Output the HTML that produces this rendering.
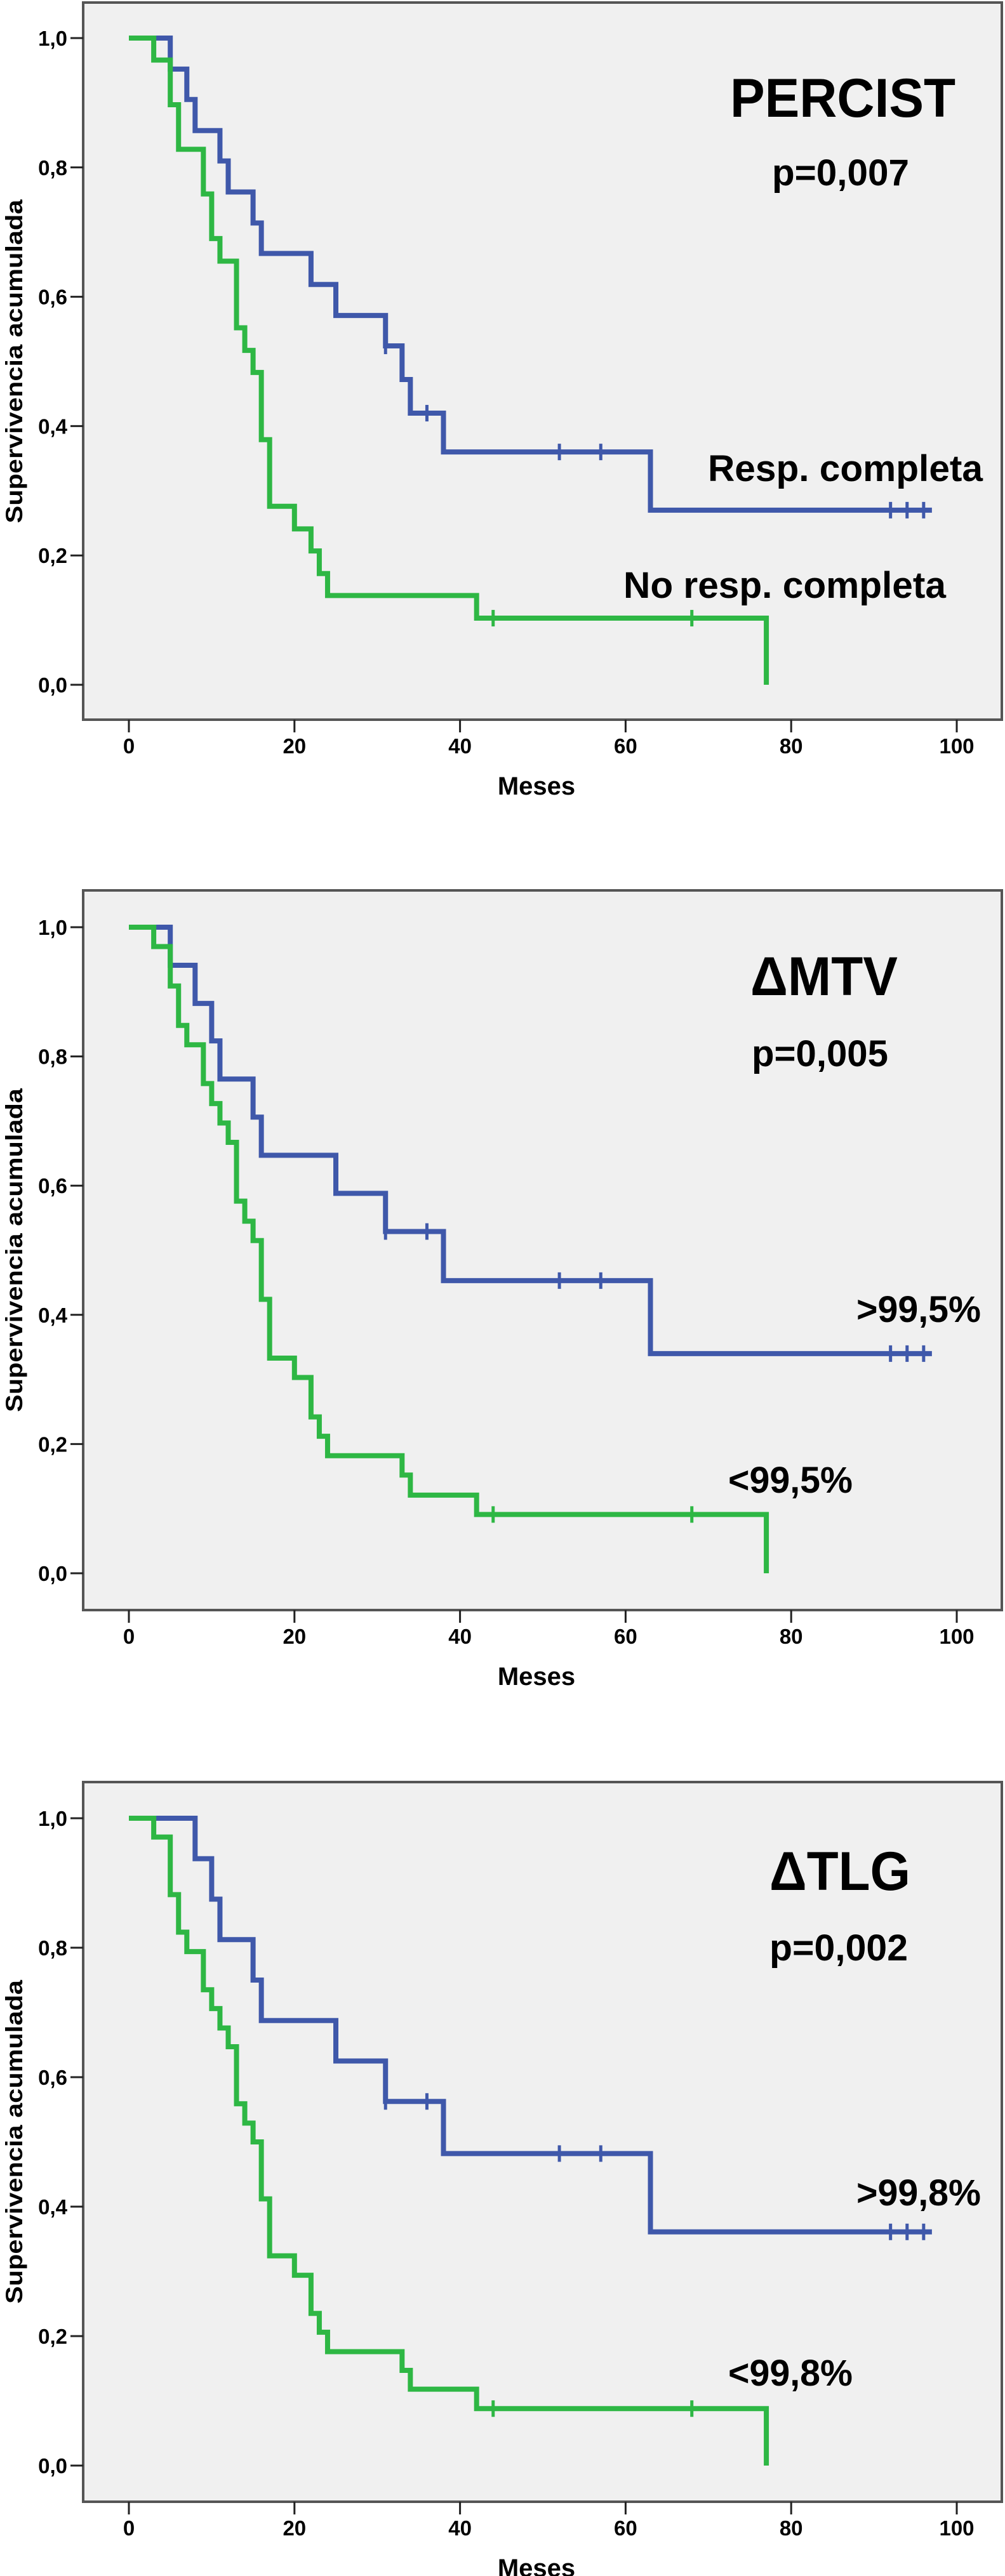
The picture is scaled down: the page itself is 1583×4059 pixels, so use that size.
<!DOCTYPE html>
<html><head><meta charset="utf-8"><style>
html,body{margin:0;padding:0;background:#fff;}
svg{display:block;}
text{font-family:"Liberation Sans",Arial,sans-serif;font-weight:bold;fill:#000;}
.tick{font-family:"Liberation Sans Narrow","Liberation Sans",sans-serif;font-size:33px;}
</style></head><body>
<svg id="chart" width="1583" height="4059" viewBox="0 0 1583 4059" xmlns="http://www.w3.org/2000/svg"></svg>
<script>
// ---- data: panel 1 (PERCIST)
const p1BlueTimes = [5, 7, 8, 11, 12, 15, 16, 22, 25, 31, 33, 34, 38, 63];
const p1BlueSurv  = [0.952, 0.905, 0.857, 0.810, 0.762, 0.714, 0.667, 0.619, 0.571, 0.524, 0.472, 0.420, 0.360, 0.270];
const p1BlueCens  = [31, 36, 52, 57, 92, 94, 96];
const p1BlueEnd = 97;
const p1GreenTimes = [3, 5, 6, 9, 10, 11, 13, 14, 15, 16, 17, 20, 22, 23, 24, 42, 77];
const p1GreenSurv  = [0.966, 0.897, 0.828, 0.759, 0.690, 0.655, 0.552, 0.517, 0.483, 0.379, 0.276, 0.241, 0.207, 0.172, 0.138, 0.103, 0];
const p1GreenCens  = [44, 68];
const p1GreenEnd = 77;
// ---- data: panel 2 (dMTV)
const p2BlueTimes = [5, 8, 10, 11, 15, 16, 25, 31, 38, 63];
const p2BlueSurv  = [0.941, 0.882, 0.824, 0.765, 0.706, 0.647, 0.588, 0.529, 0.453, 0.340];
const p2BlueCens  = [31, 36, 52, 57, 92, 94, 96];
const p2BlueEnd = 97;
const p2GreenTimes = [3, 5, 6, 7, 9, 10, 11, 12, 13, 14, 15, 16, 17, 20, 22, 23, 24, 33, 34, 42, 77];
const p2GreenSurv  = [0.970, 0.909, 0.848, 0.818, 0.758, 0.727, 0.697, 0.667, 0.576, 0.545, 0.515, 0.424, 0.333, 0.303, 0.242, 0.212, 0.182, 0.152, 0.121, 0.091, 0];
const p2GreenCens  = [44, 68];
const p2GreenEnd = 77;
// ---- data: panel 3 (dTLG)
const p3BlueTimes = [8, 10, 11, 15, 16, 25, 31, 38, 63];
const p3BlueSurv  = [0.9375, 0.875, 0.8125, 0.75, 0.6875, 0.625, 0.5625, 0.482, 0.361];
const p3BlueCens  = [31, 36, 52, 57, 92, 94, 96];
const p3BlueEnd = 97;
const p3GreenTimes = [3, 5, 6, 7, 9, 10, 11, 12, 13, 14, 15, 16, 17, 20, 22, 23, 24, 33, 34, 42, 77];
const p3GreenSurv  = [0.971, 0.882, 0.824, 0.794, 0.735, 0.706, 0.676, 0.647, 0.559, 0.529, 0.5, 0.412, 0.324, 0.294, 0.235, 0.206, 0.176, 0.147, 0.118, 0.088, 0];
const p3GreenCens  = [44, 68];
const p3GreenEnd = 77;
// ---- ticks
const xTicks = [0, 20, 40, 60, 80, 100];
const yTicks = [0, 0.2, 0.4, 0.6, 0.8, 1.0];
const yTickLabels = ["0,0", "0,2", "0,4", "0,6", "0,8", "1,0"];

const NS = "http://www.w3.org/2000/svg";
const svg = document.getElementById("chart");
function mk(tag, attrs, parent) {
  const e = document.createElementNS(NS, tag);
  for (const k in attrs) e.setAttribute(k, attrs[k]);
  (parent || svg).appendChild(e);
  return e;
}
const BLUE = "#3f58aa", GREEN = "#2eb744";

const panels = [
  {key:"percist", top:4, bottom:1134, y1:60, y0:1079, title:"PERCIST", tx:1150, tw:355, tb:184, ptext:"p=0,007", px:1216, pw:216, pb:292,
   bl:{t:"Resp. completa", x:1115, w:433, b:758}, gl:{t:"No resp. completa", x:982, w:508, b:942},
   blue:[p1BlueTimes,p1BlueSurv,p1BlueCens,p1BlueEnd], green:[p1GreenTimes,p1GreenSurv,p1GreenCens,p1GreenEnd]},
  {key:"mtv", top:1403, bottom:2537, y1:1461, y0:2479, title:"\u0394MTV", tx:1182, tw:232, tb:1568, ptext:"p=0,005", px:1184, pw:215, pb:1680,
   bl:{t:">99,5%", x:1349, w:196, b:2083}, gl:{t:"<99,5%", x:1147, w:196, b:2352},
   blue:[p2BlueTimes,p2BlueSurv,p2BlueCens,p2BlueEnd], green:[p2GreenTimes,p2GreenSurv,p2GreenCens,p2GreenEnd]},
  {key:"tlg", top:2808, bottom:3942, y1:2865, y0:3885, title:"\u0394TLG", tx:1212, tw:222, tb:2978, ptext:"p=0,002", px:1212, pw:218, pb:3089,
   bl:{t:">99,8%", x:1349, w:196, b:3475}, gl:{t:"<99,8%", x:1147, w:196, b:3759},
   blue:[p3BlueTimes,p3BlueSurv,p3BlueCens,p3BlueEnd], green:[p3GreenTimes,p3GreenSurv,p3GreenCens,p3GreenEnd]}
];

const LEFT = 131, RIGHT = 1578, X0 = 203, PXM = 13.04;
const xs = t => X0 + t * PXM;

panels.forEach(p => {
  const ys = v => p.y0 - v * (p.y0 - p.y1);
  const g = mk("g", {});
  
  
  const frame = mk("rect", {x:LEFT, y:p.top, width:RIGHT-LEFT, height:p.bottom-p.top, fill:"#f0f0f0", stroke:"#555", "stroke-width":4}, g);
  
  
  // y ticks
  yTicks.forEach((v, i) => {
    const y = ys(v);
    const tl = mk("line", {x1:111, x2:LEFT, y1:y, y2:y, stroke:"#222", "stroke-width":3}, g);
    
    
    const tx = mk("text", {x:106, y:y+12, "text-anchor":"end", class:"tick"}, g);
    tx.textContent = yTickLabels[i];
    
    
  });
  // x ticks
  xTicks.forEach(v => {
    const x = xs(v);
    const tl = mk("line", {x1:x, x2:x, y1:p.bottom, y2:p.bottom+20, stroke:"#222", "stroke-width":3}, g);
    
    
    const tx = mk("text", {x:x, y:p.bottom+53, "text-anchor":"middle", class:"tick"}, g);
    tx.textContent = v;
    
    
  });
  const xt = mk("text", {x:845, y:p.bottom+118, "text-anchor":"middle", "font-size":40, style:"font-family:'Liberation Sans Narrow','Liberation Sans',sans-serif"}, g);
  xt.textContent = "Meses";
  
  
  const yc = (p.y0 + p.y1) / 2;
  const yt = mk("text", {x:0, y:0, "text-anchor":"middle", "font-size":37, transform:"translate(35," + yc + ") rotate(-90)", textLength:510, lengthAdjust:"spacingAndGlyphs"}, g);
  yt.textContent = "Supervivencia acumulada";
  
  
  // curves
  [["blue", BLUE, p.blue], ["green", GREEN, p.green]].forEach(([nm, col, d]) => {
    const [times, surv, cens, end] = d;
    let path = "M" + xs(0) + "," + ys(1);
    let cur = 1;
    times.forEach((t, i) => {
      path += " H" + xs(t) + " V" + ys(surv[i]);
      cur = surv[i];
    });
    const lastT = times[times.length - 1];
    if (end > lastT) path += " H" + xs(end);
    const pe = mk("path", {d:path, fill:"none", stroke:col, "stroke-width":8, "stroke-linejoin":"miter", "stroke-linecap":"butt"}, g);
    
    
    cens.forEach(c => {
      let v = 1;
      times.forEach((t, i) => { if (t <= c) v = surv[i]; });
      const y = ys(v);
      const ce = mk("line", {x1:xs(c), x2:xs(c), y1:y-13, y2:y+13, stroke:col, "stroke-width":5}, g);
      
      
    });
  });
  // texts
  const ti = mk("text", {x:p.tx, y:p.tb, "font-size":86, textLength:p.tw, lengthAdjust:"spacingAndGlyphs"}, g);
  ti.textContent = p.title;
  
  
  const pv = mk("text", {x:p.px, y:p.pb, "font-size":58, textLength:p.pw, lengthAdjust:"spacingAndGlyphs"}, g);
  pv.textContent = p.ptext;
  
  
  const b = mk("text", {x:p.bl.x, y:p.bl.b, "font-size":58, textLength:p.bl.w, lengthAdjust:"spacingAndGlyphs"}, g);
  b.textContent = p.bl.t;
  
  
  const gr = mk("text", {x:p.gl.x, y:p.gl.b, "font-size":58, textLength:p.gl.w, lengthAdjust:"spacingAndGlyphs"}, g);
  gr.textContent = p.gl.t;
  
  
});
</script>
</body></html>
